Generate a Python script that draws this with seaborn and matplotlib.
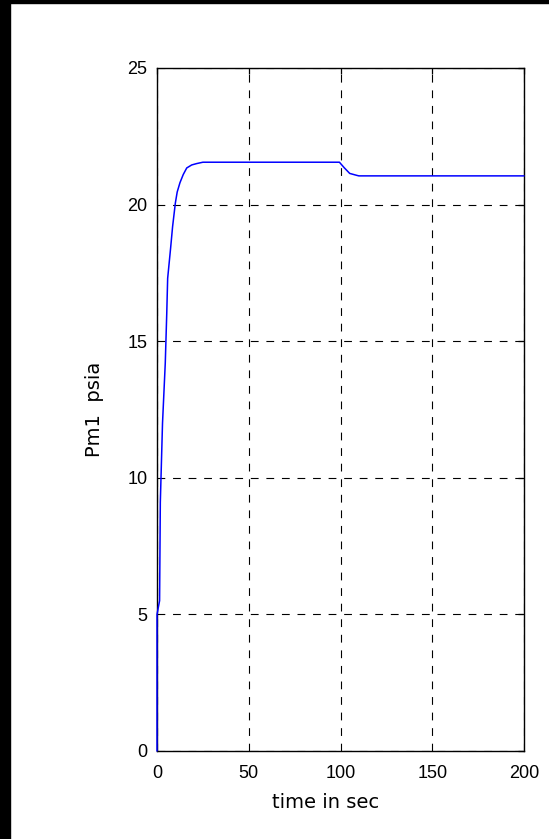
import matplotlib
matplotlib.use("Agg")
import matplotlib.pyplot as plt
from matplotlib.patches import Rectangle
import seaborn as sns
import pandas as pd

# Manifold pressure response Pm1 (psia) against time (s)
time_sec = [0, 0, 1.4, 1.8, 3.0, 4.5, 5.3, 5.8, 7.4, 8.5, 10.0, 11.0, 12.5,
            14.3, 16.2, 18.9, 21.6, 25.0, 99.4, 102.0, 105.0, 108.8, 110.0, 200.0]
pm1_psia = [0, 5.0, 5.5, 9.1, 12.0, 14.2, 16.0, 17.3, 18.4, 19.2, 20.06, 20.46, 20.8,
            21.1, 21.34, 21.45, 21.5, 21.55, 21.55, 21.35, 21.14, 21.07, 21.05, 21.05]

x_ticks = [0, 50, 100, 150, 200]
y_ticks = [0, 5, 10, 15, 20, 25]

df = pd.DataFrame({"time in sec": time_sec, "Pm1  psia": pm1_psia})

sns.set_style("white")
plt.rcParams["font.family"] = ["Liberation Sans", "DejaVu Sans"]

fig = plt.figure(figsize=(5.49, 8.39), dpi=100)
fig.patch.set_facecolor("white")
ax = fig.add_axes([0.286, 0.1049, 0.6685, 0.8141])

sns.lineplot(data=df, x="time in sec", y="Pm1  psia", estimator=None, sort=False,
             color="#0000ff", linewidth=1.1, ax=ax)
for ln in ax.get_lines():
    ln.set_clip_on(False)
    ln.set_zorder(5)

ax.set_xlim(0, 200)
ax.set_ylim(0, 25)
ax.set_xticks(x_ticks)
ax.set_yticks(y_ticks)
ax.set_xticklabels([str(v) for v in x_ticks])
ax.set_yticklabels([str(v) for v in y_ticks])

ax.grid(True, color="black", linewidth=0.8, linestyle=(0, (7, 7)))

for side in ["left", "right", "top", "bottom"]:
    ax.spines[side].set_visible(True)
    ax.spines[side].set_color("black")
    ax.spines[side].set_linewidth(1.0)

ax.tick_params(axis="both", direction="in", length=4, width=0.9, colors="black",
               labelsize=13, top=True, right=True)
ax.tick_params(axis="x", pad=10)
ax.tick_params(axis="y", pad=7)

ax.set_xlabel("time in sec", fontsize=14, family=["DejaVu Sans"], color="black")
ax.set_ylabel("Pm1  psia", fontsize=14, family=["DejaVu Sans"], color="black")
ax.xaxis.set_label_coords(0.458, -0.062)
ax.yaxis.set_label_coords(-0.145, 0.5)

# dark frame strips along the left and top edges of the window
fig.add_artist(Rectangle((0, 0), 10 / 549, 1, transform=fig.transFigure,
                         color="black", zorder=10))
fig.add_artist(Rectangle((0, 1 - 3 / 839), 1, 3 / 839, transform=fig.transFigure,
                         color="black", zorder=10))

fig.savefig("out.png", dpi=100, facecolor="white")
